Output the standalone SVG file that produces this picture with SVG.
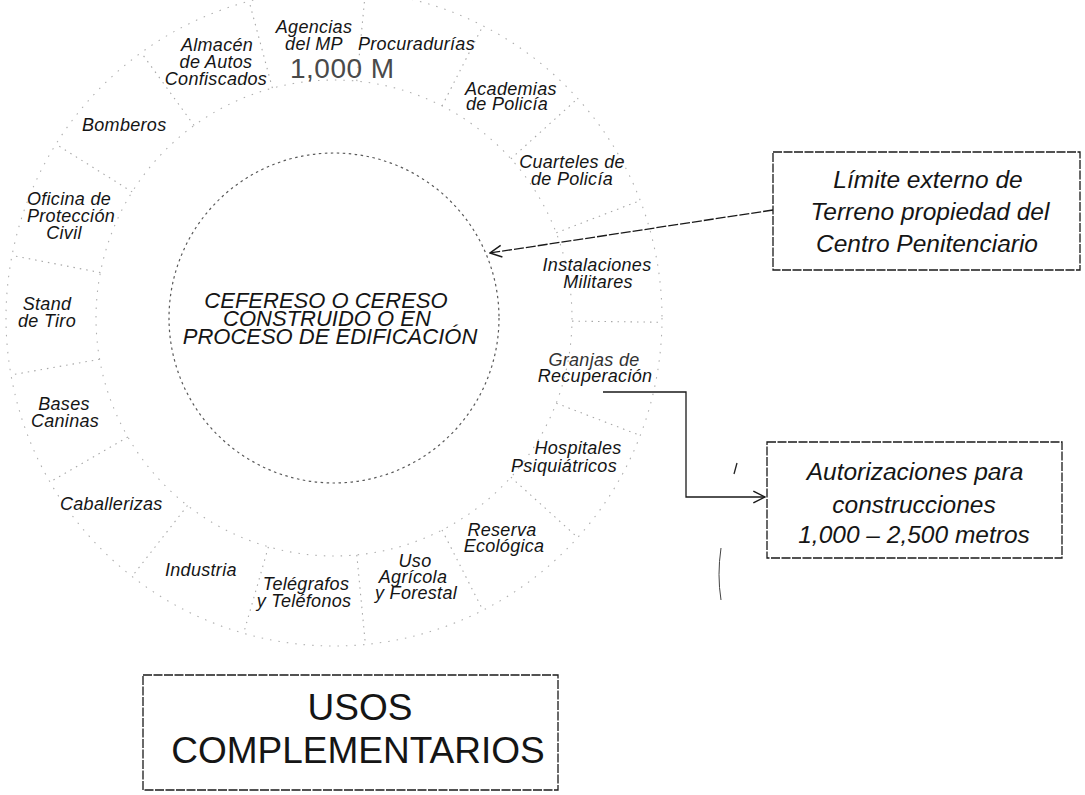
<svg xmlns="http://www.w3.org/2000/svg" width="1085" height="795" viewBox="0 0 1085 795">
<defs>
<style>
.lbl{font-family:"Liberation Sans",Arial,sans-serif;font-style:italic;font-size:18px;letter-spacing:0.3px;fill:#151515}
.mid{text-anchor:middle}
.box{fill:none;stroke:#1a1a1a;stroke-width:1.3;stroke-dasharray:9 1.5}
.boxtxt{font-family:"Liberation Sans",Arial,sans-serif;font-style:italic;font-size:24.5px;fill:#151515;text-anchor:middle}
.ring{fill:none;stroke:#b0b0b0;stroke-width:1.1;stroke-dasharray:1.5 7}
.inner{fill:none;stroke:#5a5a5a;stroke-width:1.2;stroke-dasharray:2.5 3.5}
.div{stroke:#a8a8a8;stroke-width:1.1;stroke-dasharray:1.5 5;fill:none}
.conn{fill:none;stroke:#1a1a1a;stroke-width:1.3}
</style>
<marker id="open" viewBox="0 0 12 12" refX="11" refY="6" markerWidth="14" markerHeight="14" markerUnits="userSpaceOnUse" orient="auto">
<path d="M1,1 L11,6 L1,11" fill="none" stroke="#1a1a1a" stroke-width="1.3"/>
</marker>
</defs>
<rect width="1085" height="795" fill="#fff"/>

<g id="rings">
<circle class="ring" cx="334" cy="318" r="238"/>
<circle class="ring" cx="334" cy="318" r="328"/>
<line class="div" x1="356.8" y1="81.1" x2="365.4" y2="-8.5"/>
<line class="div" x1="442" y1="106" x2="482.9" y2="25.8"/>
<line class="div" x1="510.9" y1="158.8" x2="577.7" y2="98.5"/>
<line class="div" x1="556.3" y1="232.8" x2="640.3" y2="200.5"/>
<line class="div" x1="572" y1="321.1" x2="662" y2="322.3"/>
<line class="div" x1="556.3" y1="403.2" x2="640.3" y2="435.5"/>
<line class="div" x1="510.9" y1="477.2" x2="577.7" y2="537.5"/>
<line class="div" x1="442" y1="530" x2="482.9" y2="610.2"/>
<line class="div" x1="356.8" y1="554.9" x2="365.4" y2="644.5"/>
<line class="div" x1="268.4" y1="546.8" x2="243.6" y2="633.3"/>
<line class="div" x1="187.5" y1="505.5" x2="132" y2="576.5"/>
<line class="div" x1="127.9" y1="437" x2="49.9" y2="482"/>
<line class="div" x1="99.6" y1="359.3" x2="11" y2="375"/>
<line class="div" x1="100.4" y1="272.6" x2="12" y2="255.4"/>
<line class="div" x1="132.2" y1="191.9" x2="55.9" y2="144.2"/>
<line class="div" x1="194.1" y1="125.5" x2="141.2" y2="52.6"/>
<line class="div" x1="272.4" y1="88.1" x2="249.1" y2="1.2"/>
</g>

<g id="center">
<circle class="inner" cx="334" cy="318" r="165"/>
<text class="boxtxt" style="font-size:22px" x="326" y="308">CEFERESO O CERESO</text>
<text class="boxtxt" style="font-size:22px" x="327" y="326">CONSTRUIDO O EN</text>
<text class="boxtxt" style="font-size:22px" x="330" y="344">PROCESO DE EDIFICACIÓN</text>
</g>

<g id="distance">
<text x="290" y="78" style="font-family:'Liberation Sans',Arial,sans-serif;font-size:28px;letter-spacing:0.5px;fill:#4a4a4a">1,000 M</text>
</g>

<g id="sectors">
<g id="agencias"><text class="lbl mid" x="314" y="33">Agencias</text><text class="lbl mid" x="314" y="50">del MP</text></g>
<g id="procuradurias"><text class="lbl" x="358" y="50">Procuradurías</text></g>
<g id="almacen"><text class="lbl mid" x="217" y="51">Almacén</text><text class="lbl mid" x="216" y="68">de Autos</text><text class="lbl mid" x="216" y="85">Confiscados</text></g>
<g id="academias"><text class="lbl" x="465" y="95">Academias</text><text class="lbl" x="466" y="110">de Policía</text></g>
<g id="bomberos"><text class="lbl" x="82" y="131">Bomberos</text></g>
<g id="oficina"><text class="lbl mid" x="69" y="205">Oficina de</text><text class="lbl mid" x="71" y="222">Protección</text><text class="lbl mid" x="64" y="239">Civil</text></g>
<g id="stand"><text class="lbl mid" x="47" y="310">Stand</text><text class="lbl mid" x="47" y="327">de Tiro</text></g>
<g id="cuarteles"><text class="lbl mid" x="572" y="168">Cuarteles de</text><text class="lbl mid" x="572" y="185">de Policía</text></g>
<g id="instalaciones"><text class="lbl mid" x="597" y="271">Instalaciones</text><text class="lbl mid" x="598" y="288">Militares</text></g>
<g id="granjas"><text class="lbl mid" x="594" y="366" style="fill:#333">Granjas de</text><text class="lbl mid" x="595" y="382">Recuperación</text></g>
<g id="hospitales"><text class="lbl mid" x="578" y="454">Hospitales</text><text class="lbl mid" x="564" y="472">Psiquiátricos</text></g>
<g id="reserva"><text class="lbl mid" x="502" y="536">Reserva</text><text class="lbl mid" x="504" y="552">Ecológica</text></g>
<g id="uso"><text class="lbl mid" x="415" y="567">Uso</text><text class="lbl mid" x="413" y="583">Agrícola</text><text class="lbl mid" x="416" y="599">y Forestal</text></g>
<g id="telegrafos"><text class="lbl mid" x="306" y="590">Telégrafos</text><text class="lbl mid" x="304" y="607">y Teléfonos</text></g>
<g id="industria"><text class="lbl" x="165" y="576">Industria</text></g>
<g id="caballerizas"><text class="lbl" x="60" y="510">Caballerizas</text></g>
<g id="bases"><text class="lbl mid" x="64" y="410">Bases</text><text class="lbl mid" x="65" y="427">Caninas</text></g>
</g>

<g id="limite">
<rect class="box" x="773" y="152" width="307" height="118"/>
<text class="boxtxt" x="928" y="188">Límite externo de</text>
<text class="boxtxt" x="930" y="220">Terreno propiedad  del</text>
<text class="boxtxt" x="927" y="252">Centro Penitenciario</text>
</g>

<g id="autorizaciones">
<rect class="box" x="767" y="442" width="295" height="116"/>
<text class="boxtxt" x="915" y="480">Autorizaciones para</text>
<text class="boxtxt" x="914" y="513">construcciones</text>
<text class="boxtxt" x="914" y="543">1,000 – 2,500 metros</text>
</g>

<g id="usos">
<rect class="box" x="143" y="675" width="415" height="115"/>
<text x="360" y="720" style="font-family:'Liberation Sans',Arial,sans-serif;font-size:37px;fill:#151515;text-anchor:middle">USOS</text>
<text x="358" y="763" style="font-family:'Liberation Sans',Arial,sans-serif;font-size:37px;fill:#151515;text-anchor:middle">COMPLEMENTARIOS</text>
</g>

<g id="connectors">
<line class="conn" x1="773" y1="210" x2="490" y2="253" stroke-dasharray="10 2" marker-end="url(#open)"/>
<polyline class="conn" points="603,392 686,392 686,497 765,497" marker-end="url(#open)"/>
</g>

<g id="marks">
<line x1="737" y1="463" x2="734" y2="474" stroke="#222" stroke-width="1.3"/>
<path d="M721,548 Q717,575 721,600" fill="none" stroke="#444" stroke-width="1"/>
</g>
</svg>
